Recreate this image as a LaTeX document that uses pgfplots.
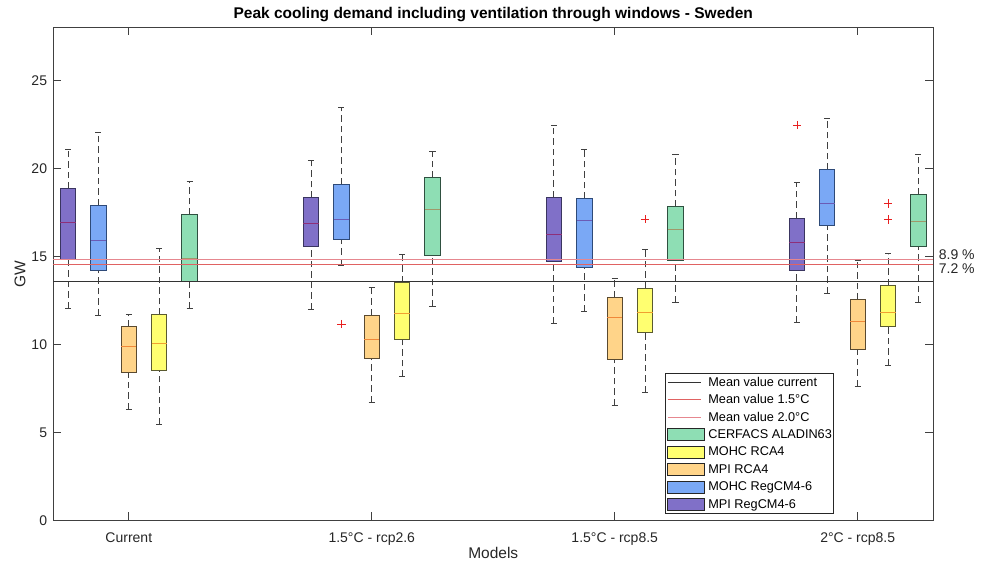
\documentclass[border=0pt]{standalone}
\usepackage{fontspec}
\setmainfont{Liberation Sans}
\usepackage{pgfplots}
\pgfplotsset{compat=1.18}

\definecolor{pF}{HTML}{8070C8}\definecolor{pE}{HTML}{3A3560}\definecolor{pM}{HTML}{8E2F78}
\definecolor{bF}{HTML}{7AA8F5}\definecolor{bE}{HTML}{2E4A78}\definecolor{bM}{HTML}{6B5BB5}
\definecolor{oF}{HTML}{FFD489}\definecolor{oE}{HTML}{5A4A30}\definecolor{oM}{HTML}{F0883A}
\definecolor{yF}{HTML}{FFFF70}\definecolor{yE}{HTML}{5A5A30}\definecolor{yM}{HTML}{F0A030}
\definecolor{gF}{HTML}{8EDEB4}\definecolor{gE}{HTML}{2F5040}\definecolor{gM}{HTML}{A0986A}
\definecolor{rA}{HTML}{E06262}\definecolor{rB}{HTML}{E8909A}
\definecolor{oR}{HTML}{E82020}
\definecolor{axc}{HTML}{404040}

\pgfplotsset{
  myline legend/.style={legend image code/.code={\draw[##1] (0pt,0pt) -- (33pt,0pt); \path[draw=none,fill=none] (0pt,-6pt) rectangle (37pt,6pt);}},
  mybox legend/.style={legend image code/.code={\draw[##1] (0pt,-6pt) rectangle (37pt,6pt);}},
  whisk/.style={forget plot, draw=axc, line width=1pt, dash pattern=on 6.5pt off 4pt, mark=none},
  cap/.style={forget plot, draw=axc, line width=1pt, solid, mark=none},
  outl/.style={forget plot, only marks, mark=+, mark size=4.2pt, draw=oR, fill=oR, mark options={solid, draw=oR}, line width=0.9pt},
}

% #1 position, #2 lower whisker, #3 lower quartile, #4 median, #5 upper quartile, #6 upper whisker, #7 fill, #8 edge, #9 median colour
\newcommand{\bx}[9]{%
\pgfmathsetmacro\bxL{#1-0.0315}\pgfmathsetmacro\bxR{#1+0.0315}%
\pgfmathsetmacro\bxCL{#1-0.0125}\pgfmathsetmacro\bxCR{#1+0.0125}%
\addplot[whisk] coordinates {(#1,#2) (#1,#3)};
\addplot[whisk] coordinates {(#1,#5) (#1,#6)};
\addplot[cap] coordinates {(\bxCL,#2) (\bxCR,#2)};
\addplot[cap] coordinates {(\bxCL,#6) (\bxCR,#6)};
\addplot[forget plot, mark=none, fill=#7, draw=#8, line width=1pt, line join=miter] coordinates {(\bxL,#3) (\bxR,#3) (\bxR,#5) (\bxL,#5) (\bxL,#3)} -- cycle;
\addplot[forget plot, mark=none, draw=#9, line width=1pt] coordinates {(\bxL,#4) (\bxR,#4)};
}

\begin{document}
\begin{tikzpicture}
\begin{axis}[
  name=ax,
  scale only axis, width=879.5pt, height=493pt,
  xmin=0.69, xmax=4.31, ymin=0, ymax=28,
  xtick={1,2,3,4},
  xticklabels={Current, 1.5°C - rcp2.6, 1.5°C - rcp8.5, 2°C - rcp8.5},
  ytick={0,5,10,15,20,25},
  tick pos=both, tick align=inside, major tick length=8pt,
  /pgf/number format/assume math mode=true,
  tick label style={font=\fontsize{14}{16}\selectfont, text=black!85},
  xticklabel style={yshift=-8.4pt},
  yticklabel style={xshift=-2.9pt},
  axis line style={axc, line width=0.9pt},
  every tick/.style={axc, line width=0.9pt},
  title={Peak cooling demand including ventilation through windows - Sweden},
  title style={font=\bfseries\fontsize{15.5}{17}\selectfont, at={(0.5,1)}, anchor=base, yshift=3pt},
  xlabel={Models}, ylabel={GW},
  xlabel style={font=\fontsize{15.5}{17}\selectfont, at={(axis description cs:0.5,-0.0659)}, anchor=center, text=black!85},
  ylabel style={font=\fontsize{15.5}{17}\selectfont, at={(axis description cs:-0.0381,0.5)}, anchor=center, rotate=0, text=black!85},
  clip=false,
  legend cell align=left,
  legend style={at={(0.6953,0.0132)}, anchor=south west, draw=black!85, line width=0.9pt,
    font=\fontsize{12.7}{14}\selectfont, inner xsep=2pt, inner ysep=0pt, row sep=0pt, column sep=3pt,
    nodes={inner sep=0pt, minimum height=17.5pt}},
]
% Current
\bx{0.75}{12.06}{14.82}{16.94}{18.85}{21.07}{pF}{pE}{pM}
\bx{0.875}{11.65}{14.22}{15.90}{17.91}{22.01}{bF}{bE}{bM}
\bx{1.0}{6.33}{8.39}{9.86}{11.00}{11.72}{oF}{oE}{oM}
\bx{1.125}{5.46}{8.54}{10.07}{11.68}{15.43}{yF}{yE}{yM}
\bx{1.25}{12.02}{13.55}{14.90}{17.36}{19.23}{gF}{gE}{gM}
% 1.5 rcp2.6
\bx{1.75}{12.00}{15.58}{16.88}{18.32}{20.42}{pF}{pE}{pM}
\bx{1.875}{14.50}{15.94}{17.09}{19.06}{23.45}{bF}{bE}{bM}
\bx{2.0}{6.71}{9.20}{10.28}{11.66}{13.21}{oF}{oE}{oM}
\bx{2.125}{8.16}{10.28}{11.78}{13.52}{15.12}{yF}{yE}{yM}
\bx{2.25}{12.16}{15.07}{17.68}{19.48}{20.97}{gF}{gE}{gM}
% 1.5 rcp8.5
\bx{2.75}{11.21}{14.73}{16.22}{18.36}{22.46}{pF}{pE}{pM}
\bx{2.875}{11.89}{14.39}{17.05}{18.26}{21.08}{bF}{bE}{bM}
\bx{3.0}{6.54}{9.15}{11.53}{12.68}{13.75}{oF}{oE}{oM}
\bx{3.125}{7.29}{10.68}{11.82}{13.18}{15.37}{yF}{yE}{yM}
\bx{3.25}{12.40}{14.78}{16.50}{17.81}{20.78}{gF}{gE}{gM}
% 2 rcp8.5
\bx{3.75}{11.23}{14.18}{15.77}{17.17}{19.21}{pF}{pE}{pM}
\bx{3.875}{12.91}{16.75}{18.00}{19.91}{22.84}{bF}{bE}{bM}
\bx{4.0}{7.63}{9.69}{11.32}{12.55}{14.78}{oF}{oE}{oM}
\bx{4.125}{8.83}{11.00}{11.82}{13.37}{15.16}{yF}{yE}{yM}
\bx{4.25}{12.38}{15.56}{16.96}{18.49}{20.78}{gF}{gE}{gM}
% outliers
\addplot[outl] coordinates {(1.875,11.15)};
\addplot[outl] coordinates {(3.125,17.11)};
\addplot[outl] coordinates {(3.75,22.46)};
\addplot[outl] coordinates {(4.125,18.00)};
\addplot[outl] coordinates {(4.125,17.09)};
% mean lines
\addplot[draw=black!80, line width=0.9pt, mark=none, myline legend] coordinates {(0.69,13.59) (4.31,13.59)};
\addplot[draw=rA, line width=0.9pt, mark=none, myline legend] coordinates {(0.69,14.57) (4.31,14.57)};
\addplot[draw=rB!80!rA, line width=0.9pt, mark=none, myline legend] coordinates {(0.69,14.80) (4.31,14.80)};
\addlegendimage{mybox legend, fill=gF, draw=black!85, line width=0.9pt}
\addlegendimage{mybox legend, fill=yF, draw=black!85, line width=0.9pt}
\addlegendimage{mybox legend, fill=oF, draw=black!85, line width=0.9pt}
\addlegendimage{mybox legend, fill=bF, draw=black!85, line width=0.9pt}
\addlegendimage{mybox legend, fill=pF, draw=black!85, line width=0.9pt}
\legend{Mean value current, Mean value 1.5°C, Mean value 2.0°C, CERFACS ALADIN63, MOHC RCA4, MPI RCA4, MOHC RegCM4-6, MPI RegCM4-6}
\node[anchor=west, inner sep=0pt, font=\fontsize{14}{16}\selectfont, text=black!85] at (axis cs:4.31,15.07) [xshift=5.7pt] {8.9 \%};
\node[anchor=west, inner sep=0pt, font=\fontsize{14}{16}\selectfont, text=black!85] at (axis cs:4.31,14.31) [xshift=5.7pt] {7.2 \%};
\end{axis}
\pgfresetboundingbox
\path[use as bounding box] ([xshift=-53.5pt,yshift=-46.5pt]ax.south west) rectangle ([xshift=48pt,yshift=27.5pt]ax.north east);
\end{tikzpicture}
\end{document}
